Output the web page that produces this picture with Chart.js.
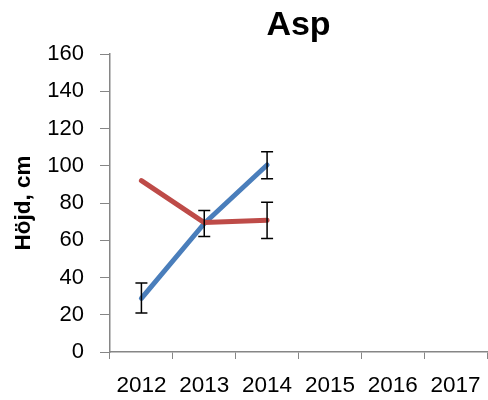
<!DOCTYPE html>
<html>
<head>
<meta charset="utf-8">
<script src="https://cdn.jsdelivr.net/npm/chart.js@4"></script>
<style>
  html, body { margin: 0; padding: 0; background: #fff; }
  #wrap { width: 488px; height: 400px; }
</style>
</head>
<body>
<div id="wrap"><canvas id="c"></canvas></div>
<script>
// Data
const years = ['2012', '2013', '2014', '2015', '2016', '2017'];
const blueValues = [28.8, 69, 100.4, null, null, null];
const redValues = [92, 69.5, 70.8, null, null, null];
const blueErrLow = [21, 62, 93, null, null, null];
const blueErrHigh = [37, 76, 107.5, null, null, null];
const redErrLow = [null, null, 61, null, null, null];
const redErrHigh = [null, null, 80.4, null, null, null];

const fontFamily = '"Liberation Sans", Arial, sans-serif';

// Draws vertical error bars with caps from the low/high arrays
const errorBars = {
    id: 'errorBars',
    afterDatasetsDraw(chart) {
        const { ctx, scales: { x, y } } = chart;
        const sets = [[blueErrLow, blueErrHigh], [redErrLow, redErrHigh]];
        ctx.save();
        ctx.strokeStyle = '#000';
        ctx.lineWidth = 1.5;
        sets.forEach(([lo, hi]) => {
            lo.forEach((v, i) => {
                if (v == null || hi[i] == null) return;
                const px = x.getPixelForValue(i);
                const y1 = y.getPixelForValue(v);
                const y2 = y.getPixelForValue(hi[i]);
                ctx.beginPath();
                ctx.moveTo(px, y1); ctx.lineTo(px, y2);
                ctx.moveTo(px - 6, y1); ctx.lineTo(px + 6, y1);
                ctx.moveTo(px - 6, y2); ctx.lineTo(px + 6, y2);
                ctx.stroke();
            });
        });
        ctx.restore();
    }
};

new Chart(document.getElementById('c'), {
    type: 'line',
    data: {
        labels: years,
        datasets: [
            {
                label: 'Blue',
                data: blueValues,
                borderColor: '#4a7ebb',
                borderWidth: 5,
                borderCapStyle: 'round',
                borderJoinStyle: 'round',
                pointRadius: 0,
                tension: 0,
                order: 2
            },
            {
                label: 'Red',
                data: redValues,
                borderColor: '#be4b48',
                borderWidth: 5,
                borderCapStyle: 'round',
                borderJoinStyle: 'round',
                pointRadius: 0,
                tension: 0,
                order: 1
            }
        ]
    },
    options: {
        responsive: true,
        maintainAspectRatio: false,
        animation: false,
        layout: { padding: { left: 0, right: 1, top: 0, bottom: 0 } },
        plugins: {
            legend: { display: false },
            tooltip: { enabled: false },
            title: {
                display: true,
                fullSize: false,
                text: 'Asp',
                color: '#000',
                font: { family: fontFamily, size: 34, weight: 'bold', lineHeight: 1.2 },
                padding: { top: 5.6, bottom: 7.6 }
            }
        },
        scales: {
            x: {
                offset: true,
                grid: {
                    offset: true,
                    drawOnChartArea: false,
                    drawTicks: true,
                    tickLength: 7,
                    color: '#868686'
                },
                border: { color: '#868686', width: 1.5 },
                ticks: {
                    color: '#000',
                    padding: 13,
                    maxRotation: 0,
                    autoSkip: false,
                    font: { family: fontFamily, size: 22.5 }
                },
                afterFit: s => { s.height = 48; s.paddingRight = 0; s.paddingLeft = 0; }
            },
            y: {
                min: 0,
                max: 160,
                grid: {
                    drawOnChartArea: false,
                    tickLength: 10,
                    color: '#868686'
                },
                border: { color: '#868686', width: 1.5 },
                ticks: {
                    stepSize: 20,
                    color: '#000',
                    padding: 16,
                    font: { family: fontFamily, size: 22 }
                },
                title: {
                    display: true,
                    text: 'Höjd, cm',
                    color: '#000',
                    font: { family: fontFamily, size: 22.5, weight: 'bold', lineHeight: 1.2 },
                    padding: { top: 10, bottom: 0 }
                },
                afterFit: s => { s.width = 110; }
            }
        }
    },
    plugins: [errorBars]
});
</script>
</body>
</html>
